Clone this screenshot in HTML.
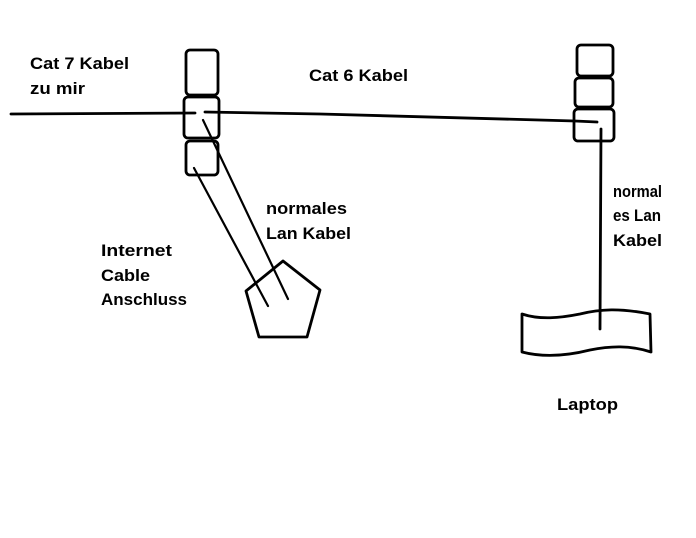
<!DOCTYPE html>
<html><head><meta charset="utf-8"><style>
html,body{margin:0;padding:0;background:#fff;}
svg{display:block;}
text{font-family:"Liberation Sans",sans-serif;font-weight:bold;font-size:17px;fill:#000;}
</style></head><body>
<svg width="696" height="538" viewBox="0 0 696 538" xmlns="http://www.w3.org/2000/svg">
<g fill="none" stroke="#000" stroke-width="2.8" stroke-linejoin="round" stroke-linecap="round">
<rect x="186" y="50" width="32" height="45" rx="4"/>
<rect x="184" y="97" width="35" height="41" rx="4"/>
<rect x="186" y="141" width="32" height="34" rx="4"/>
<rect x="577" y="45" width="36" height="31" rx="4"/>
<rect x="575" y="78" width="38" height="29" rx="4"/>
<rect x="574" y="109" width="40" height="32" rx="4"/>
<path d="M11 114 L195 113"/>
<path d="M205 112 L320 114 L575 121 L597 122"/>
<path d="M203 120 L288 299" stroke-width="2.2"/>
<path d="M194 168 L268 306" stroke-width="2.2"/>
<path d="M601 129 L600 329"/>
<polygon points="283,261 320,290 307,337 259,337 246,291"/>
<path d="M522 314 C540 320,560 318,580 314 C600 309,620 308,650 314 L651 352 C630 345,610 346,590 350 C570 355,545 358,522 352 Z"/>
</g>
<text x="30" y="69" textLength="99" lengthAdjust="spacingAndGlyphs">Cat 7 Kabel</text>
<text x="30" y="94" textLength="55" lengthAdjust="spacingAndGlyphs">zu mir</text>
<text x="309" y="81" textLength="99" lengthAdjust="spacingAndGlyphs">Cat 6 Kabel</text>
<text x="266" y="214" textLength="81" lengthAdjust="spacingAndGlyphs">normales</text>
<text x="266" y="239" textLength="85" lengthAdjust="spacingAndGlyphs">Lan Kabel</text>
<text x="101" y="256" textLength="71" lengthAdjust="spacingAndGlyphs">Internet</text>
<text x="101" y="281" textLength="49" lengthAdjust="spacingAndGlyphs">Cable</text>
<text x="101" y="305" textLength="86" lengthAdjust="spacingAndGlyphs">Anschluss</text>
<text x="613" y="197" textLength="49" lengthAdjust="spacingAndGlyphs">normal</text>
<text x="613" y="221" textLength="48" lengthAdjust="spacingAndGlyphs">es Lan</text>
<text x="613" y="246" textLength="49" lengthAdjust="spacingAndGlyphs">Kabel</text>
<text x="557" y="410" textLength="61" lengthAdjust="spacingAndGlyphs">Laptop</text>
</svg>
</body></html>
